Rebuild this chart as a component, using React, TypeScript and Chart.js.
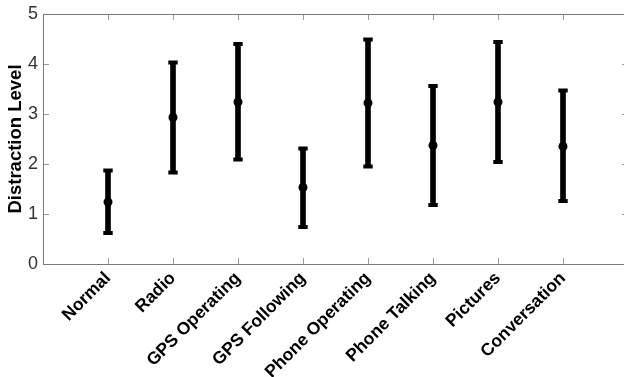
import React, { useEffect, useRef } from "react";
import { Chart, registerables } from "chart.js";

Chart.register(...registerables);

const categories = [
  "Normal",
  "Radio",
  "GPS Operating",
  "GPS Following",
  "Phone Operating",
  "Phone Talking",
  "Pictures",
  "Conversation",
];
const means = [1.24, 2.93, 3.24, 1.53, 3.22, 2.37, 3.24, 2.35];
const lows = [0.62, 1.83, 2.09, 0.74, 1.95, 1.18, 2.04, 1.26];
const highs = [1.87, 4.03, 4.4, 2.31, 4.49, 3.56, 4.44, 3.47];
const yTicks = [0, 1, 2, 3, 4, 5];

const boxPlugin = {
  id: "matlabBox",
  afterDraw(chart: any) {
    const { ctx, chartArea } = chart;
    const xs = chart.scales.x;
    const ys = chart.scales.y;
    const { left, right, top, bottom } = chartArea;
    ctx.save();
    ctx.lineWidth = 1;
    ctx.strokeStyle = "#9a9a9a";
    ctx.beginPath();
    yTicks.forEach((v) => {
      if (v === 0 || v === 5) return;
      const py = Math.round(ys.getPixelForValue(v)) + 0.5;
      ctx.moveTo(left, py);
      ctx.lineTo(left + 6, py);
      ctx.moveTo(right, py);
      ctx.lineTo(right - 6, py);
    });
    categories.forEach((_, i) => {
      const px = Math.round(xs.getPixelForValue(i + 1)) + 0.5;
      ctx.moveTo(px, bottom);
      ctx.lineTo(px, bottom - 6);
      ctx.moveTo(px, top);
      ctx.lineTo(px, top + 6);
    });
    ctx.stroke();
    ctx.strokeStyle = "#7a7a7a";
    ctx.strokeRect(
      Math.round(left) + 0.5,
      Math.round(top) + 0.5,
      Math.round(right - left),
      Math.round(bottom - top)
    );
    ctx.restore();
  },
};

export default function App() {
  const ref = useRef<HTMLCanvasElement | null>(null);

  useEffect(() => {
    if (!ref.current) return;
    const barData = categories.map((_, i) => ({ x: i + 1, y: [lows[i], highs[i]] }));
    const capData = [
      ...categories.map((_, i) => ({ x: i + 1, y: lows[i] })),
      ...categories.map((_, i) => ({ x: i + 1, y: highs[i] })),
    ];
    const meanData = categories.map((_, i) => ({ x: i + 1, y: means[i] }));

    const chart = new Chart(ref.current, {
      type: "bar",
      data: {
        datasets: [
          {
            type: "bar",
            data: barData as any,
            backgroundColor: "#000000",
            borderWidth: 0,
            barThickness: 5,
          } as any,
          {
            type: "line",
            data: capData,
            showLine: false,
            pointStyle: "line",
            pointRadius: 4.7,
            pointBorderWidth: 4,
            pointBorderColor: "#000000",
            pointBackgroundColor: "#000000",
          } as any,
          {
            type: "line",
            data: meanData,
            showLine: false,
            pointStyle: "circle",
            pointRadius: 4.5,
            pointBorderWidth: 0,
            pointBackgroundColor: "#000000",
            pointBorderColor: "#000000",
          } as any,
        ],
      },
      options: {
        animation: false,
        responsive: false,
        maintainAspectRatio: false,
        layout: { padding: { top: 14, right: 12, left: 0, bottom: 0 } },
        plugins: { legend: { display: false }, tooltip: { enabled: false } },
        scales: {
          x: {
            type: "linear",
            min: 0,
            max: 9,
            offset: false,
            grid: { display: false, drawTicks: false, offset: false },
            border: { display: false },
            afterFit: (s: any) => {
              s.height = 113;
              s.paddingLeft = 0;
              s.paddingRight = 0;
            },
            afterBuildTicks: (s: any) => {
              s.ticks = categories.map((_, i) => ({ value: i + 1 }));
            },
            ticks: {
              autoSkip: false,
              minRotation: 45,
              maxRotation: 45,
              padding: 4,
              color: "#000000",
              font: { family: "'Liberation Sans', Arial, sans-serif", size: 17.5, weight: "bold" },
              callback: (v: any) => categories[Number(v) - 1] ?? "",
            },
          },
          y: {
            type: "linear",
            min: 0,
            max: 5,
            grid: { display: false, drawTicks: false },
            border: { display: false },
            afterFit: (s: any) => {
              s.width = 43;
              s.paddingTop = 0;
              s.paddingBottom = 0;
            },
            ticks: {
              stepSize: 1,
              padding: 5,
              color: "#333333",
              font: { family: "'Liberation Sans', Arial, sans-serif", size: 18 },
            },
            title: {
              display: true,
              text: "Distraction Level",
              color: "#000000",
              padding: { top: 5, bottom: 0 },
              font: { family: "'Liberation Sans', Arial, sans-serif", size: 18.5, weight: "bold" },
            },
          },
        },
      },
      plugins: [boxPlugin],
    });
    return () => chart.destroy();
  }, []);

  return (
    <div
      style={{
        position: "absolute",
        left: 0,
        top: 0,
        width: 624,
        height: 377,
        overflow: "hidden",
        background: "#ffffff",
      }}
    >
      <canvas ref={ref} width={640} height={377} style={{ display: "block" }} />
    </div>
  );
}
